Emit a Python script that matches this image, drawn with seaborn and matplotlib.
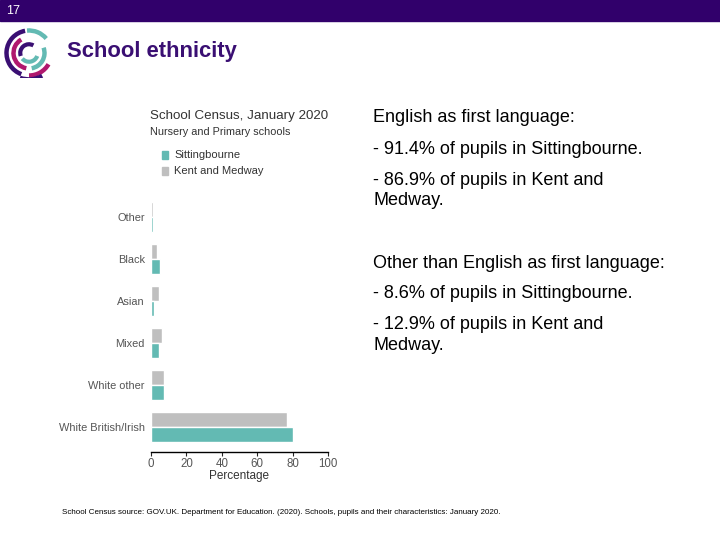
import seaborn as sns
import matplotlib.pyplot as plt
import pandas as pd
from matplotlib.patches import Arc, Rectangle

# School Census, January 2020 - Nursery and Primary schools
groups = ['Other', 'Black', 'Asian', 'Mixed', 'White other', 'White British/Irish']
kent_medway = [1.0, 3.6, 4.3, 6.0, 7.5, 76.7]
sittingbourne = [0.9, 5.1, 1.5, 4.7, 7.2, 80.5]
areas = ['Kent and Medway', 'Sittingbourne']
colours = {'Sittingbourne': '#63BAB3', 'Kent and Medway': '#BFBFBF'}

notes = [
    ('English as first language:', 118),
    ('- 91.4% of pupils in Sittingbourne.', 149),
    ('- 86.9% of pupils in Kent and\nMedway.', 190.5),
    ('Other than English as first language:', 263),
    ('- 8.6% of pupils in Sittingbourne.', 294),
    ('- 12.9% of pupils in Kent and\nMedway.', 335),
]
source = ('School Census source: GOV.UK. Department for Education. (2020). '
          'Schools, pupils and their characteristics: January 2020.')

df = pd.DataFrame({
    'group': groups * 2,
    'pct': kent_medway + sittingbourne,
    'area': [areas[0]] * len(groups) + [areas[1]] * len(groups),
})

sns.set_style('white')
plt.rcParams['font.family'] = ['Liberation Sans', 'DejaVu Sans']

W, H = 720, 540
fig = plt.figure(figsize=(7.2, 5.4), dpi=100)

def fx(px):
    return px / W

def fy(py):
    return 1 - py / H

# purple header strip and slide number
fig.patches.append(Rectangle((0, fy(21)), 1, 21 / H, transform=fig.transFigure,
                             color='#31006B', zorder=0))
fig.text(fx(6), fy(10.5), '17', color='white', fontsize=9, va='center')
fig.text(fx(67), fy(51), 'School ethnicity', color='#3A0F73', fontsize=15.8,
         fontweight='bold', va='center')

# logo: a few coloured arcs
logo = fig.add_axes([fx(4), fy(78), 50 / W, 50 / H])
logo.set_xlim(-1, 1)
logo.set_ylim(-1, 1)
logo.set_aspect('equal')
logo.axis('off')
for r, t1, t2, c, lw in [(0.9, 100, 250, '#3A0F73', 3.2), (0.9, 40, 95, '#63BAB3', 3.2),
                         (0.9, 270, 330, '#B0186E', 3.2), (0.62, 120, 260, '#B0186E', 3.2),
                         (0.62, 280, 20, '#63BAB3', 3.2), (0.35, 60, 200, '#3A0F73', 3),
                         (0.35, 220, 340, '#63BAB3', 3), (1.05, 250, 300, '#3A0F73', 3)]:
    logo.add_patch(Arc((0, 0), 2 * r, 2 * r, theta1=t1, theta2=t2, color=c, lw=lw))

# bar chart
ax = fig.add_axes([fx(151), fy(452), (328 - 151) / W, (452 - 200) / H])
sns.barplot(data=df, x='pct', y='group', hue='area', hue_order=areas,
            palette=colours, order=groups, width=0.7, saturation=1,
            legend=False, ax=ax)
ax.set_xlim(0, 100)
ax.set_ylim(5.6, -0.4)
ax.set_xticks([0, 20, 40, 60, 80, 100])
ax.set_xlabel('Percentage', fontsize=8.5, color='#333333', labelpad=0.5)
ax.set_ylabel('')
for s in ['top', 'right', 'left']:
    ax.spines[s].set_visible(False)
ax.spines['bottom'].set_color('black')
ax.spines['bottom'].set_linewidth(1)
ax.tick_params(axis='x', bottom=True, length=3, width=0.8, pad=1,
               labelsize=8.3, labelcolor='#555555')
ax.tick_params(axis='y', left=False, pad=1, labelsize=7.9, labelcolor='#555555')

# chart heading and legend
fig.text(fx(150), fy(116), 'School Census, January 2020', fontsize=9.6,
         color='#333333', va='center')
fig.text(fx(150), fy(132), 'Nursery and Primary schools', fontsize=7.8,
         color='#333333', va='center')
for i, name in enumerate(['Sittingbourne', 'Kent and Medway']):
    yy = 155 + 16 * i
    fig.patches.append(Rectangle((fx(162), fy(yy + 4)), 6 / W, 8 / H,
                                 transform=fig.transFigure, color=colours[name]))
    fig.text(fx(174), fy(yy), name, fontsize=8, color='#333333', va='center')

# notes on the right
for txt, yy in notes:
    fig.text(fx(373), fy(yy), txt, fontsize=13, color='black', va='center',
             linespacing=1.28)

fig.text(fx(62), fy(512), source, fontsize=5.8, color='black', va='center')

fig.savefig('out.png', dpi=100)
